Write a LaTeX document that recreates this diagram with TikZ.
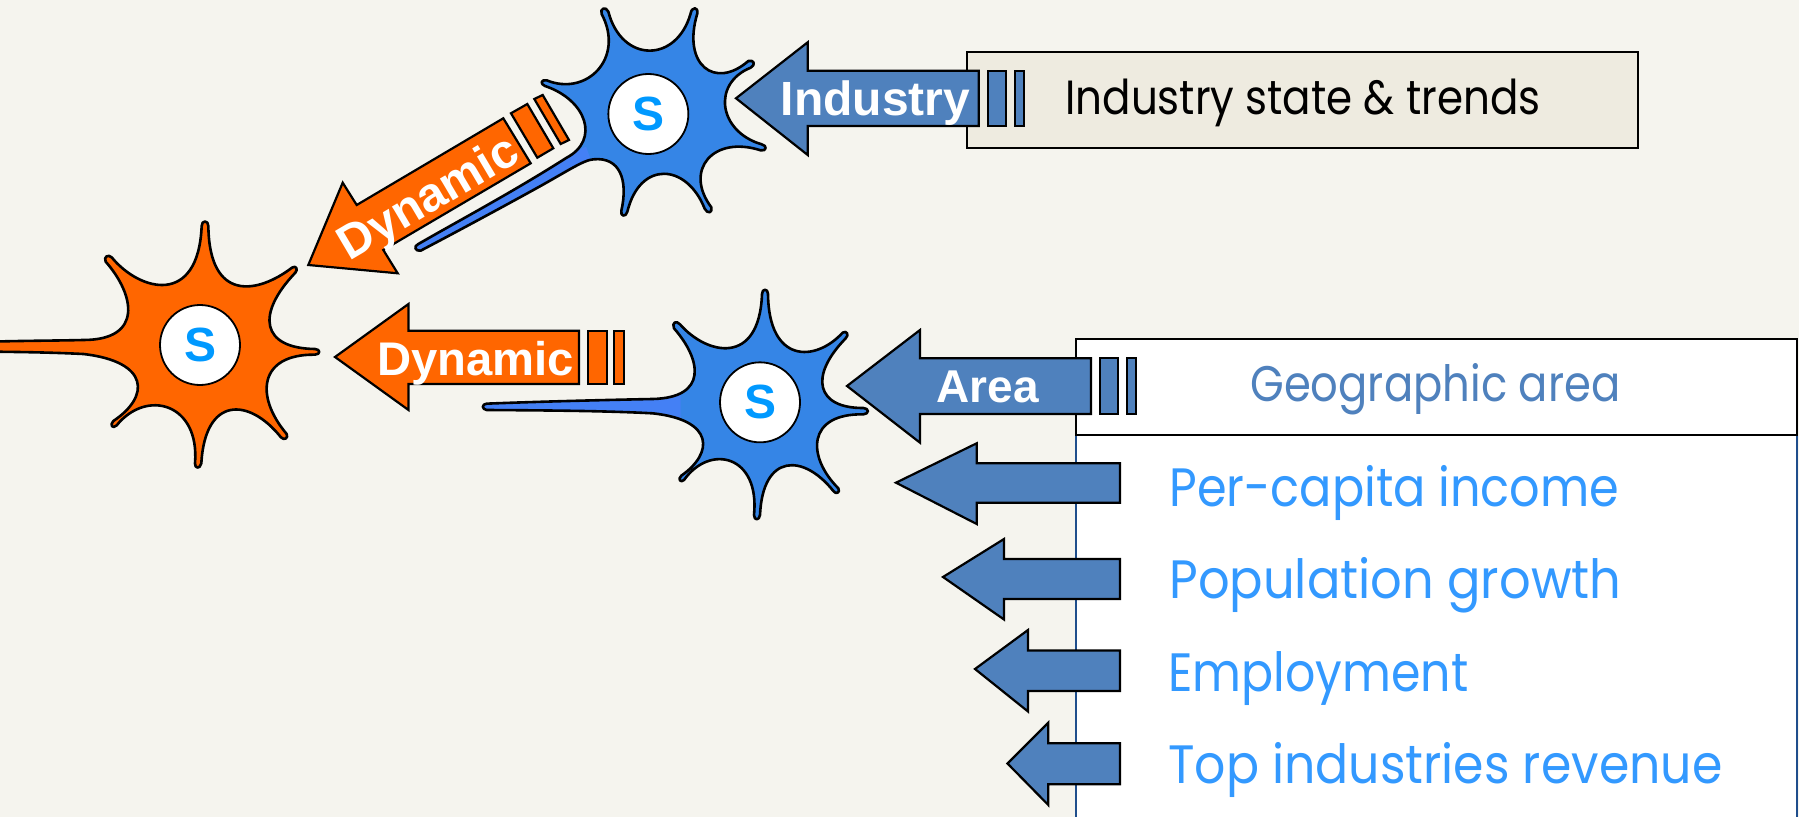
\documentclass[tikz,border=0pt]{standalone}
\usepackage{fontspec}
\usepackage{graphicx}
\setmainfont{Liberation Sans}
\newfontfamily\gothic{Poppins}
\definecolor{bgc}{RGB}{245,244,238}
\definecolor{boxc}{RGB}{238,235,224}
\definecolor{orng}{RGB}{255,102,0}
\definecolor{steel}{RGB}{79,129,189}
\definecolor{neub}{RGB}{53,133,230}
\definecolor{neubl}{RGB}{68,128,245}
\definecolor{skyt}{RGB}{51,153,255}
\definecolor{ess}{RGB}{0,153,255}
\definecolor{edgeb}{RGB}{31,78,140}
\tikzset{
  x=0.5pt,y=-0.5pt,
  arrowshape/.style={draw=black,line width=1.1pt,line join=miter,fill=#1},
  neuronline/.style={draw=black,line width=1.3pt,line join=round},
  soma/.style={circle,draw=black,fill=white,line width=0.9pt,minimum size=40pt,inner sep=0pt,text=ess,font=\fontsize{24}{24}\selectfont\bfseries},
  whitelabel/.style={anchor=base,text=white,inner sep=0pt,font=\fontsize{#1}{#1}\selectfont\bfseries},
  thintext/.style={anchor=base west,inner sep=0pt,text=#1},
  zoomed/.style={x=0.166667pt,y=-0.166667pt},
}
% tip x, tip y, shoulder x, head top, shaft top, shaft bottom, head bottom, right end, colour
\newcommand{\leftarrowpoly}[9]{\path[arrowshape=#9] (#1,#2) -- (#3,#4) -- (#3,#5) -- (#8,#5) -- (#8,#6) -- (#3,#6) -- (#3,#7) -- cycle;}
\newcommand{\barpoly}[5]{\path[arrowshape=#5] (#1,#3) rectangle (#2,#4);}
\newcommand{\fittext}[2]{\resizebox{#1}{\height}{#2}}
\newcommand{\orangeoutline}{(605,78) .. controls (605,60) and (625,60) .. (625,78)
 .. controls (628,310) and (775,280) .. (876,203)
 .. controls (888,195) and (895,208) .. (886,218)
 .. controls (766,344) and (785,445) .. (945,447)
 .. controls (962,448) and (962,463) .. (945,464)
 .. controls (775,462) and (765,590) .. (860,702)
 .. controls (866,715) and (852,722) .. (843,712)
 .. controls (745,590) and (615,590) .. (604,790)
 .. controls (600,808) and (584,806) .. (585,790)
 .. controls (600,610) and (440,565) .. (350,676)
 .. controls (338,688) and (328,675) .. (340,663)
 .. controls (450,590) and (450,485) .. (250,462)
 .. controls (170,458) and (80,456) .. (-30,455) -- (-30,425)
 .. controls (80,422) and (170,422) .. (250,420)
 .. controls (430,420) and (405,285) .. (317,185)
 .. controls (310,170) and (325,162) .. (335,172)
 .. controls (420,275) and (595,320) .. (605,78) -- cycle}
\newcommand{\midoutline}{(876,42) .. controls (876,25) and (894,25) .. (894,42)
 .. controls (896,250) and (1035,248) .. (1118,158)
 .. controls (1130,150) and (1138,165) .. (1127,175)
 .. controls (1015,290) and (1040,385) .. (1180,384)
 .. controls (1198,385) and (1198,402) .. (1180,403)
 .. controls (1010,400) and (1010,530) .. (1105,625)
 .. controls (1112,637) and (1098,645) .. (1090,633)
 .. controls (1000,520) and (878,520) .. (870,705)
 .. controls (868,722) and (852,722) .. (852,705)
 .. controls (870,525) and (720,490) .. (642,600)
 .. controls (632,610) and (622,597) .. (634,587)
 .. controls (730,520) and (735,420) .. (548,400)
 .. controls (400,392) and (200,391) .. (50,390)
 .. controls (35,388) and (35,372) .. (50,371)
 .. controls (200,365) and (400,360) .. (548,357)
 .. controls (714,353) and (695,240) .. (612,145)
 .. controls (605,128) and (618,120) .. (630,133)
 .. controls (710,225) and (868,260) .. (876,42) -- cycle}
\newcommand{\topoutline}{(1172,40) .. controls (1175,20) and (1195,20) .. (1192,40)
 .. controls (1145,195) and (1245,270) .. (1345,183)
 .. controls (1362,178) and (1368,195) .. (1352,203)
 .. controls (1235,250) and (1255,395) .. (1385,433)
 .. controls (1402,436) and (1400,455) .. (1382,451)
 .. controls (1240,405) and (1150,510) .. (1234,622)
 .. controls (1238,640) and (1222,642) .. (1214,626)
 .. controls (1160,490) and (1020,480) .. (982,635)
 .. controls (978,652) and (960,650) .. (964,632)
 .. controls (985,540) and (960,470) .. (880,478)
 .. controls (850,480) and (800,515) .. (700,570)
 .. controls (600,625) and (480,690) .. (362,752)
 .. controls (345,755) and (340,738) .. (355,732)
 .. controls (480,660) and (640,575) .. (800,473)
 .. controls (900,420) and (860,300) .. (735,258)
 .. controls (720,252) and (722,238) .. (740,241)
 .. controls (860,290) and (975,175) .. (905,42)
 .. controls (898,25) and (918,18) .. (925,35)
 .. controls (965,190) and (1130,190) .. (1172,40) -- cycle}
\begin{document}
\begin{tikzpicture}
\useasboundingbox (0,0) rectangle (1799,817);
\fill[bgc] (0,0) rectangle (1799,817);

% right-hand boxes
\path[fill=boxc,draw=black,line width=0.9pt] (966.7,52.3) rectangle (1638,148);
\fill[white] (1075.7,435.3) rectangle (1796.5,830);
\draw[edgeb,line width=1pt] (1075.7,435.3) -- (1075.7,830);
\draw[edgeb,line width=1pt] (1796.5,435.3) -- (1796.5,830);
\path[fill=white,draw=black,line width=1pt] (1075.7,339.3) rectangle (1796.5,435.3);

% neurons
\begin{scope}[shift={(0,200)},zoomed]
  \path[fill=orng,neuronline] \orangeoutline;
  \node[soma] (somaA) at (600,435) {S};
\end{scope}
\begin{scope}[shift={(470,280)},zoomed]
  \fill[neub] \midoutline;
  \begin{scope}
    \clip (0,300) rectangle (632,450);
    \fill[neubl] \midoutline;
  \end{scope}
  \draw[neuronline] \midoutline;
  \node[soma] (somaB) at (870,367) {S};
\end{scope}
\begin{scope}[shift={(300,0)},zoomed]
  \fill[neub] \topoutline;
  \begin{scope}
    \clip (300,800) -- (880,500) -- (858,440) -- (300,700) -- cycle;
    \fill[neubl] \topoutline;
  \end{scope}
  \draw[neuronline] \topoutline;
  \node[soma] (somaC) at (1045,342) {S};
\end{scope}

% orange arrows
\leftarrowpoly{335}{357}{408.5}{304}{330.7}{384}{410}{579}{orng}
\barpoly{587.7}{606.7}{330.7}{384}{orng}
\barpoly{614.3}{624.3}{330.7}{384}{orng}
\path[arrowshape=orng] (308.3,265) -- (342.7,182.7) -- (356.7,205) -- (503.3,118.3) -- (530.7,163.3) -- (383.3,250) -- (397.7,273.3) -- cycle;
\path[arrowshape=orng] (511,113.3) -- (527.3,104) -- (553.3,148.3) -- (537.3,157.7) -- cycle;
\path[arrowshape=orng] (534.3,99) -- (542.7,95) -- (569,140) -- (560.7,144) -- cycle;

% blue arrows
\leftarrowpoly{736}{98.3}{807.7}{42.3}{70.7}{126}{155}{978.7}{steel}
\barpoly{987.7}{1006}{70.7}{126}{steel}
\barpoly{1015}{1024}{70.7}{126}{steel}
\leftarrowpoly{847}{386}{920}{330}{358.3}{414}{442.7}{1091}{steel}
\barpoly{1100}{1118}{358.3}{414}{steel}
\barpoly{1126.7}{1136}{358.3}{414}{steel}
\leftarrowpoly{896}{482.7}{976.7}{443.3}{463.3}{502.7}{524}{1120}{steel}
\leftarrowpoly{943}{577}{1004}{539}{559}{599}{619.5}{1120}{steel}
\leftarrowpoly{975}{669}{1028}{630}{650.5}{691}{711.5}{1120}{steel}
\leftarrowpoly{1007.5}{763.5}{1048.3}{722.7}{743.3}{784.3}{805}{1120}{steel}

% labels on arrows
\node[whitelabel=24] (lblInd) at (875.5,116) {Industry};
\node[whitelabel=23] (lblArea) at (987.5,403) {Area};
\node[whitelabel=23.6] (lblDynB) at (475.5,376) {Dynamic};
\node[whitelabel=24,rotate=30.6] (lblDynA) at (436,211) {Dynamic};

% right-hand texts
\node[thintext=black,font=\gothic\fontsize{24}{24}\selectfont] (tIndustry) at (1065,115) {\fittext{237.5pt}{Industry state \& trends}};
\node[thintext=steel,font=\gothic\fontsize{25}{25}\selectfont] (tGeo) at (1250,402) {\fittext{185pt}{Geographic area}};
\node[thintext=skyt,font=\gothic\fontsize{27}{27}\selectfont] (tIncome) at (1169,507) {\fittext{225pt}{Per-capita income}};
\node[thintext=skyt,font=\gothic\fontsize{27}{27}\selectfont] (tPop) at (1169,599) {\fittext{226pt}{Population growth}};
\node[thintext=skyt,font=\gothic\fontsize{27}{27}\selectfont] (tEmp) at (1168,691) {\fittext{150pt}{Employment}};
\node[thintext=skyt,font=\gothic\fontsize{27}{27}\selectfont] (tTop) at (1168,783) {\fittext{277pt}{Top industries revenue}};
\end{tikzpicture}
\end{document}
